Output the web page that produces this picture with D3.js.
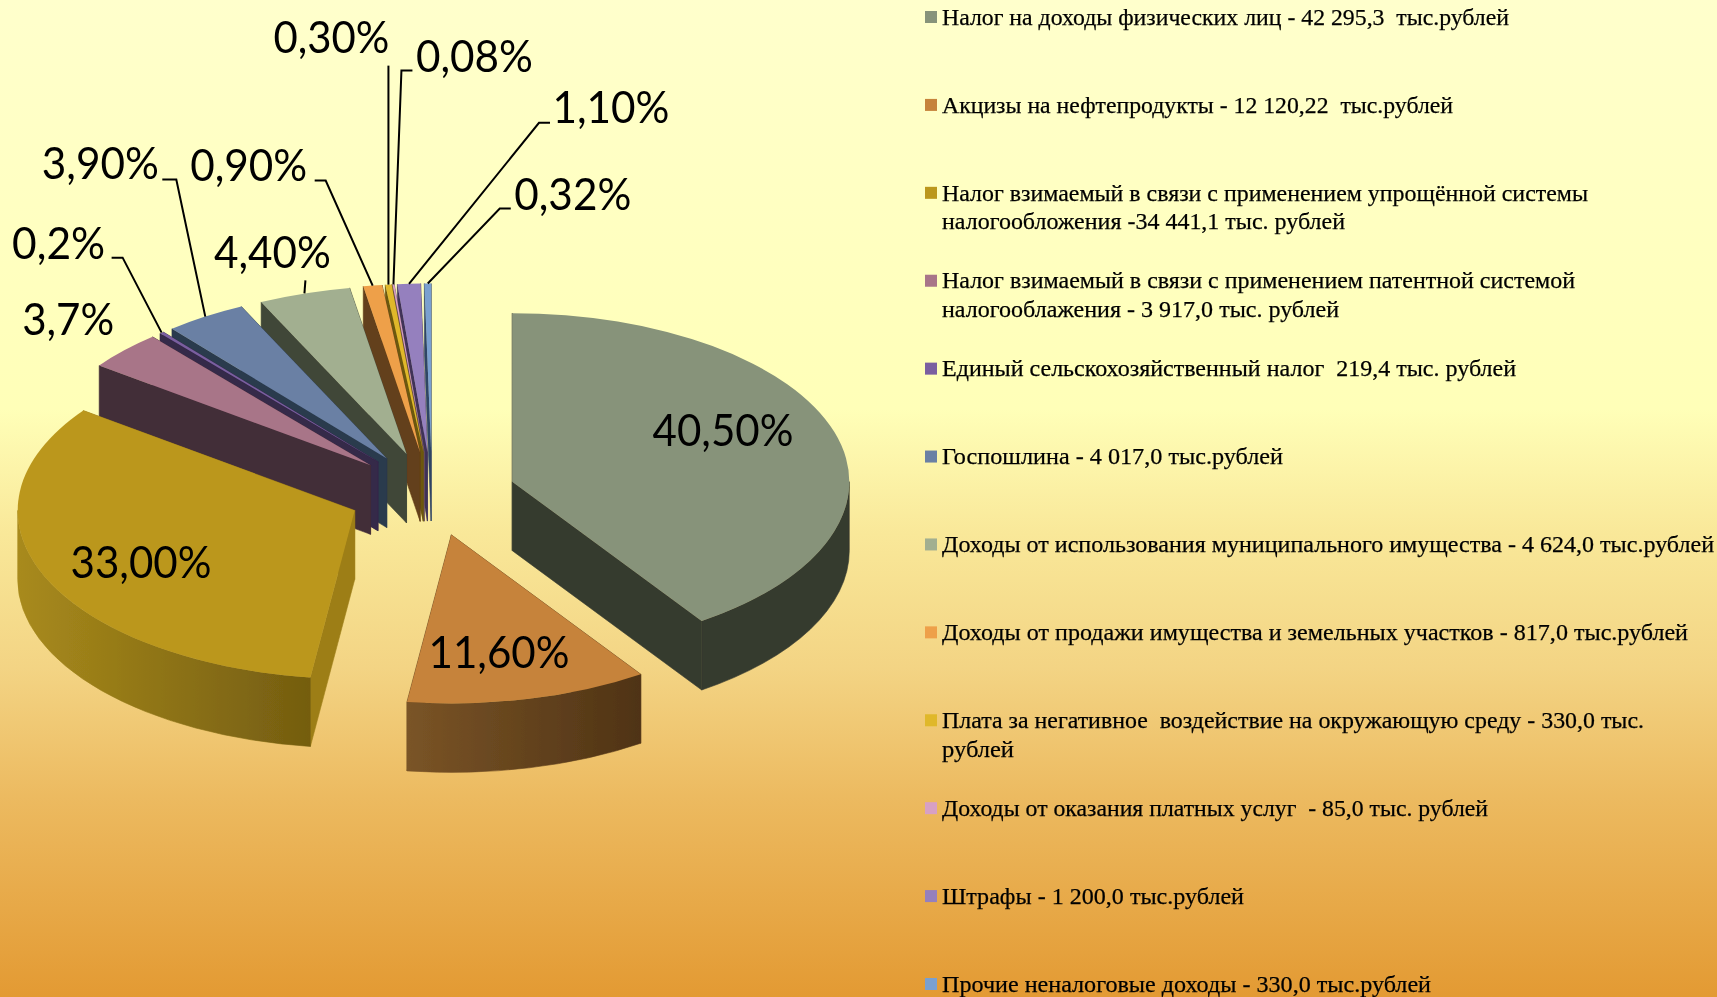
<!DOCTYPE html>
<html lang="ru"><head><meta charset="utf-8">
<script src="https://cdn.jsdelivr.net/npm/d3@7"></script>
<style>html,body{margin:0;padding:0;overflow:hidden;background:#fff}svg{display:block}text{white-space:pre}</style>
</head><body><div id="chart"></div>
<script>
// ---- data ----
const shares = [40.5, 11.6, 33.0, 3.7, 0.2, 3.9, 4.4, 0.9, 0.3, 0.08, 1.1, 0.32];
const shareLabels = ["40,50%","11,60%","33,00%","3,7%","0,2%","3,90%","4,40%","0,90%","0,30%","0,08%","1,10%","0,32%"];
const legendLines = [
  ["Налог на доходы физических лиц - 42 295,3  тыс.рублей"],
  ["Акцизы на нефтепродукты - 12 120,22  тыс.рублей"],
  ["Налог взимаемый в связи с применением упрощённой системы","налогообложения -34 441,1 тыс. рублей"],
  ["Налог взимаемый в связи с применением патентной системой","налогооблажения - 3 917,0 тыс. рублей"],
  ["Единый сельскохозяйственный налог  219,4 тыс. рублей"],
  ["Госпошлина - 4 017,0 тыс.рублей"],
  ["Доходы от использования муниципального имущества - 4 624,0 тыс.рублей"],
  ["Доходы от продажи имущества и земельных участков - 817,0 тыс.рублей"],
  ["Плата за негативное  воздействие на окружающую среду - 330,0 тыс.","рублей"],
  ["Доходы от оказания платных услуг  - 85,0 тыс. рублей"],
  ["Штрафы - 1 200,0 тыс.рублей"],
  ["Прочие неналоговые доходы - 330,0 тыс.рублей"]
];
// ---- styles ----
const topColors  = ["#87937A","#C6833A","#BB971D","#A87488","#7A5FA0","#6A80A4","#A2AF90","#EEA04A","#E0B82A","#D7A0C4","#9580BE","#7AA0D0"];
const sideColors = ["#363A2F","#5F3D1B","#9D7E17","#432D38","#35294A","#2A3A4D","#414739","#643F1A","#6C5810","#6A4F60","#3F3358","#2F4565"];
const wallGradients = {1:["#7A5426","#4F3315"], 2:["#A88A1C","#745D10"]};
const backgroundStops = [[0,"#FFFFCC"],[0.41,"#FFFFB8"],[0.535,"#F9E899"],[0.67,"#F3D484"],[0.8,"#ECBA60"],[1,"#E39A33"]];
// ---- layout ----
const W = 1717, H = 997;
const cx = 432, cy = 494, rx = 337, squash = 0.5, explode = 84, depth = 69;
// label centres and leader elbows, as offsets from the slice's outer mid-point
const labelOffset = {
  0:[0,0],1:[0,0],2:[0,0],
  3:[-56,-31],4:[-103,-89],5:[-105,-153],6:[-32,-41],7:[-124,-120],8:[-57,-247],9:[81,-228],10:[202,-177],11:[145,-89]
};
const labelWidth = [141,141,141,92,93,117,117,117,116,117,117,117];
const insideCentre = {0:[723,430],1:[499,652],2:[141,562]};
const leaderElbows = {
  4:[[-50,-75],[-39,-75]], 5:[[-43,-137],[-29,-137]], 6:[], 7:[[-58,-105],[-47,-105]],
  8:[], 9:[[19,-214],[8,-214]], 10:[[141,-161],[130,-161]], 11:[[83,-75],[72,-75]]
};
const leaderEnd = {6:[1,-13], 8:[0,-219]};
const legendWidths = [[567],[511],[646,403],[633,397],[574],[341],[772],[746],[702,72],[546],[302],[489]];

const svg = d3.select("#chart").append("svg").attr("width",W).attr("height",H);
const defs = svg.append("defs");
const bg = defs.append("linearGradient").attr("id","bg").attr("x1",0).attr("x2",0).attr("y1",0).attr("y2",1);
backgroundStops.forEach(s=>bg.append("stop").attr("offset",s[0]).attr("stop-color",s[1]));
defs.append("filter").attr("id","soft").attr("x","-5%").attr("y","-5%").attr("width","110%").attr("height","110%")
  .append("feGaussianBlur").attr("stdDeviation",0.6);
svg.append("rect").attr("width",W).attr("height",H).attr("fill","url(#bg)");

const root = svg.append("g").attr("filter","url(#soft)");
const pie = d3.pie().sort(null).value(d=>d)(shares);
const slices = pie.map((p,i)=>{
  const mid = (p.startAngle+p.endAngle)/2;
  const ax = cx + explode*Math.sin(mid), ay = cy - explode*squash*Math.cos(mid);
  const pt = a => [ax + rx*Math.sin(a), ay - rx*squash*Math.cos(a)];
  return {i,p,mid,ax,ay,pt};
});
const ry = rx*squash;
const arcTo = (pt,sweep)=>`A${rx},${ry} 0 ${0} ${sweep} ${pt[0]},${pt[1]}`;
function topPath(s){
  const a=s.pt(s.p.startAngle), b=s.pt(s.p.endAngle);
  const large = (s.p.endAngle-s.p.startAngle)>Math.PI?1:0;
  return `M${s.ax},${s.ay}L${a[0]},${a[1]}A${rx},${ry} 0 ${large} 1 ${b[0]},${b[1]}Z`;
}
function radialWall(s,a){
  const o=s.pt(a);
  return `M${s.ax},${s.ay}L${o[0]},${o[1]}L${o[0]},${o[1]+depth}L${s.ax},${s.ay+depth}Z`;
}
function outerWall(s){
  const lo=Math.max(s.p.startAngle,Math.PI/2), hi=Math.min(s.p.endAngle,3*Math.PI/2);
  if(hi<=lo) return null;
  const a=s.pt(lo), b=s.pt(hi);
  return `M${a[0]},${a[1]}${arcTo(b,1)}L${b[0]},${b[1]+depth}${arcTo([a[0],a[1]+depth],0)}Z`;
}
// painter's order: back slices first, from the last slice round to the first
slices.slice().reverse().forEach(s=>{
  const g=root.append("g");
  g.append("path").attr("d",radialWall(s,s.p.endAngle)).attr("fill",sideColors[s.i]).attr("stroke",sideColors[s.i]).attr("stroke-width",0.6);
  g.append("path").attr("d",radialWall(s,s.p.startAngle)).attr("fill",sideColors[s.i]).attr("stroke",sideColors[s.i]).attr("stroke-width",0.6);
  const ow=outerWall(s);
  if(ow){
    let fill=sideColors[s.i];
    if(wallGradients[s.i]){
      const xs=[s.pt(Math.max(s.p.startAngle,Math.PI/2))[0],s.pt(Math.min(s.p.endAngle,3*Math.PI/2))[0]];
      const id="wall"+s.i;
      const lg=defs.append("linearGradient").attr("id",id).attr("gradientUnits","userSpaceOnUse")
        .attr("x1",d3.min(xs)).attr("x2",d3.max(xs)).attr("y1",0).attr("y2",0);
      wallGradients[s.i].forEach((c,k)=>lg.append("stop").attr("offset",k).attr("stop-color",c));
      fill=`url(#${id})`;
    }
    g.append("path").attr("d",ow).attr("fill",fill).attr("stroke",fill).attr("stroke-width",0.6);
  }
  g.append("path").attr("d",topPath(s)).attr("fill",topColors[s.i]);
});

// leaders
const lineGen=d3.line();
slices.forEach(s=>{
  const elbows=leaderElbows[s.i];
  if(!elbows && !leaderEnd[s.i]) return;
  const o=s.pt(s.mid);
  let pts;
  if(elbows && elbows.length) pts=[...elbows.map(e=>[o[0]+e[0],o[1]+e[1]]),o];
  else if(leaderEnd[s.i]) pts=[[o[0]+leaderEnd[s.i][0],o[1]+leaderEnd[s.i][1]],o];
  else return;
  root.append("path").attr("d",lineGen(pts)).attr("fill","none").attr("stroke","#000").attr("stroke-width",2);
});
// percent labels
slices.forEach(s=>{
  const o=s.pt(s.mid), off=labelOffset[s.i], c=insideCentre[s.i];
  const x=c?c[0]:o[0]+off[0], y=c?c[1]:o[1]+off[1];
  root.append("text").attr("x",x).attr("y",y).attr("dy","0.35em").attr("text-anchor","middle")
    .attr("font-family","Lato").attr("font-size",45).attr("fill","#000")
    .attr("textLength",labelWidth[s.i]).attr("lengthAdjust","spacingAndGlyphs")
    .text(shareLabels[s.i]);
});
// legend
const legendY=d3.scalePoint().domain(d3.range(legendLines.length)).range([17,984]);
legendLines.forEach((lines,i)=>{
  root.append("rect").attr("x",925).attr("y",legendY(i)-6).attr("width",12).attr("height",12).attr("fill",topColors[i]);
  lines.forEach((t,k)=>{
    root.append("text").attr("x",942).attr("y",legendY(i)+k*28.5).attr("dy","0.33em")
      .attr("font-family","Liberation Serif").attr("font-size",23.5).attr("fill","#000")
      .attr("stroke","#000").attr("stroke-width",0.25)
      .attr("textLength",legendWidths[i][k]).attr("lengthAdjust","spacingAndGlyphs").text(t);
  });
});
</script></body></html>
